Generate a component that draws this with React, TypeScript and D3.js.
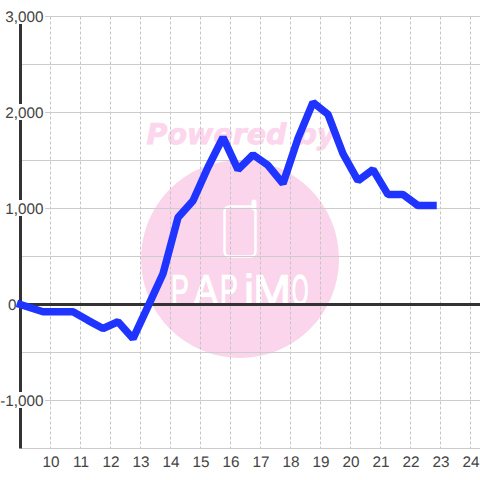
import { useEffect, useRef } from "react";
import * as d3 from "d3";

const hours = [9, 9.75, 10.25, 10.75, 11.25, 11.75, 12.25, 12.75, 13.25, 13.75, 14.25, 14.75, 15.25, 15.75, 16.25, 16.75, 17.25, 17.75, 18.25, 18.75, 19.25, 19.75, 20.25, 20.75, 21.25, 21.75, 22.25, 22.75];
const values = [0, -75, -75, -75, -165, -250, -180, -355, -20, 320, 905, 1080, 1430, 1740, 1405, 1560, 1450, 1260, 1730, 2105, 1980, 1570, 1290, 1405, 1145, 1145, 1030, 1030];
const xTicks = [10, 11, 12, 13, 14, 15, 16, 17, 18, 19, 20, 21, 22, 23, 24];
const yLabelTicks = [3000, 2000, 1000, 0, -1000];
const yGridTicks = [3000, 2500, 2000, 1500, 1000, 500, 0, -500, -1000, -1500];

// logo letters: glyph, centre x, horizontal squeeze
const logoLetters: [string, number, number][] = [
  ["P", 180, 0.62],
  ["A", 206, 0.85],
  ["P", 229, 0.62],
  ["i", 249, 1],
  ["M", 272, 1.05],
  ["O", 300, 0.5],
];

const App = () => {
  const svgRef = useRef<SVGSVGElement>(null);

  useEffect(() => {
    if (!svgRef.current) return;
    const svg = d3.select(svgRef.current);
    svg.selectAll("*").remove();
    svg.style("text-rendering", "geometricPrecision");

    const x = d3.scaleLinear().domain([9, 24]).range([20.5, 470.5]);
    const y = d3.scaleLinear().domain([3000, -1500]).range([16.5, 448.5]);

    // watermark sits under everything
    const mark = svg.append("g");
    mark.append("circle").attr("cx", 240).attr("cy", 259).attr("r", 99).attr("fill", "#fbd5ec");
    mark.append("text")
      .attr("x", 241).attr("y", 144)
      .attr("text-anchor", "middle")
      .attr("font-family", "DejaVu Sans")
      .attr("font-weight", "bold").attr("font-style", "italic")
      .attr("font-size", 28.5)
      .attr("fill", "#fcd6ec").attr("stroke", "#fcd6ec").attr("stroke-width", 0.8)
      .text("Powered by");
    mark.append("rect")
      .attr("x", 224.5).attr("y", 206.5).attr("width", 31).attr("height", 50).attr("rx", 5)
      .attr("fill", "none").attr("stroke", "#fff").attr("stroke-width", 2.5);
    mark.append("line")
      .attr("x1", 254).attr("x2", 254).attr("y1", 202).attr("y2", 208)
      .attr("stroke", "#fff").attr("stroke-width", 5).attr("stroke-linecap", "round");
    mark.selectAll("text.logo").data(logoLetters).join("text")
      .attr("class", "logo")
      .attr("transform", (d) => `translate(${d[1]},305) scale(${d[2]},1)`)
      .attr("text-anchor", "middle")
      .attr("font-family", "Liberation Sans")
      .attr("font-size", 43)
      .attr("fill", "#fff").attr("stroke", "#fff").attr("stroke-width", 1.2)
      .text((d) => d[0]);

    // grid
    svg.append("g").selectAll("line").data(xTicks).join("line")
      .attr("x1", (d) => x(d)).attr("x2", (d) => x(d))
      .attr("y1", y(3000)).attr("y2", y(-1500))
      .attr("stroke", "#c4c4c4").attr("stroke-dasharray", "3,2");
    svg.append("g").selectAll("line").data(yGridTicks).join("line")
      .attr("x1", x(9)).attr("x2", 480)
      .attr("y1", (d) => y(d)).attr("y2", (d) => y(d))
      .attr("stroke", "#ccc");

    // axes
    svg.append("line")
      .attr("x1", x(9)).attr("x2", 480).attr("y1", y(0)).attr("y2", y(0))
      .attr("stroke", "#333").attr("stroke-width", 3);
    svg.append("line")
      .attr("x1", x(9)).attr("x2", x(9)).attr("y1", y(3000)).attr("y2", y(-1500))
      .attr("stroke", "#333").attr("stroke-width", 3);

    // y labels have a white box that cuts the axis, 0 sits left of the axis
    const yLabels = svg.append("g").selectAll("g").data(yLabelTicks).join("g");
    yLabels.filter((d) => d !== 0).append("rect")
      .attr("x", (d) => 45 - (d < 0 ? 44 : 40))
      .attr("y", (d) => y(d) - 8.5)
      .attr("width", (d) => (d < 0 ? 44 : 40))
      .attr("height", 16)
      .attr("fill", "#fff");
    yLabels.append("text")
      .attr("x", (d) => (d === 0 ? 16.5 : 43.5)).attr("y", (d) => y(d) + 5.5)
      .attr("text-anchor", "end")
      .attr("font-family", "Liberation Sans").attr("font-size", 15.3)
      .attr("fill", "#444")
      .text((d) => d3.format(",")(d).replace("−", "-"));

    svg.append("g").selectAll("text").data(xTicks).join("text")
      .attr("x", (d) => x(d) + 0.5).attr("y", 466.5)
      .attr("text-anchor", "middle")
      .attr("font-family", "Liberation Sans").attr("font-size", 15.3)
      .attr("fill", "#444")
      .text((d) => d);

    // series
    const line = d3.line<number>()
      .x((_, i) => x(hours[i]))
      .y((d) => y(d));
    svg.append("path")
      .attr("d", line(values))
      .attr("fill", "none")
      .attr("stroke", "#1f35ff")
      .attr("stroke-width", 7.5)
      .attr("stroke-linecap", "square")
      .attr("stroke-linejoin", "bevel");
  }, []);

  return (
    <svg
      ref={svgRef}
      width={480}
      height={480}
      style={{ position: "absolute", left: 0, top: 0, background: "#fff" }}
    ></svg>
  );
};

export default App;
